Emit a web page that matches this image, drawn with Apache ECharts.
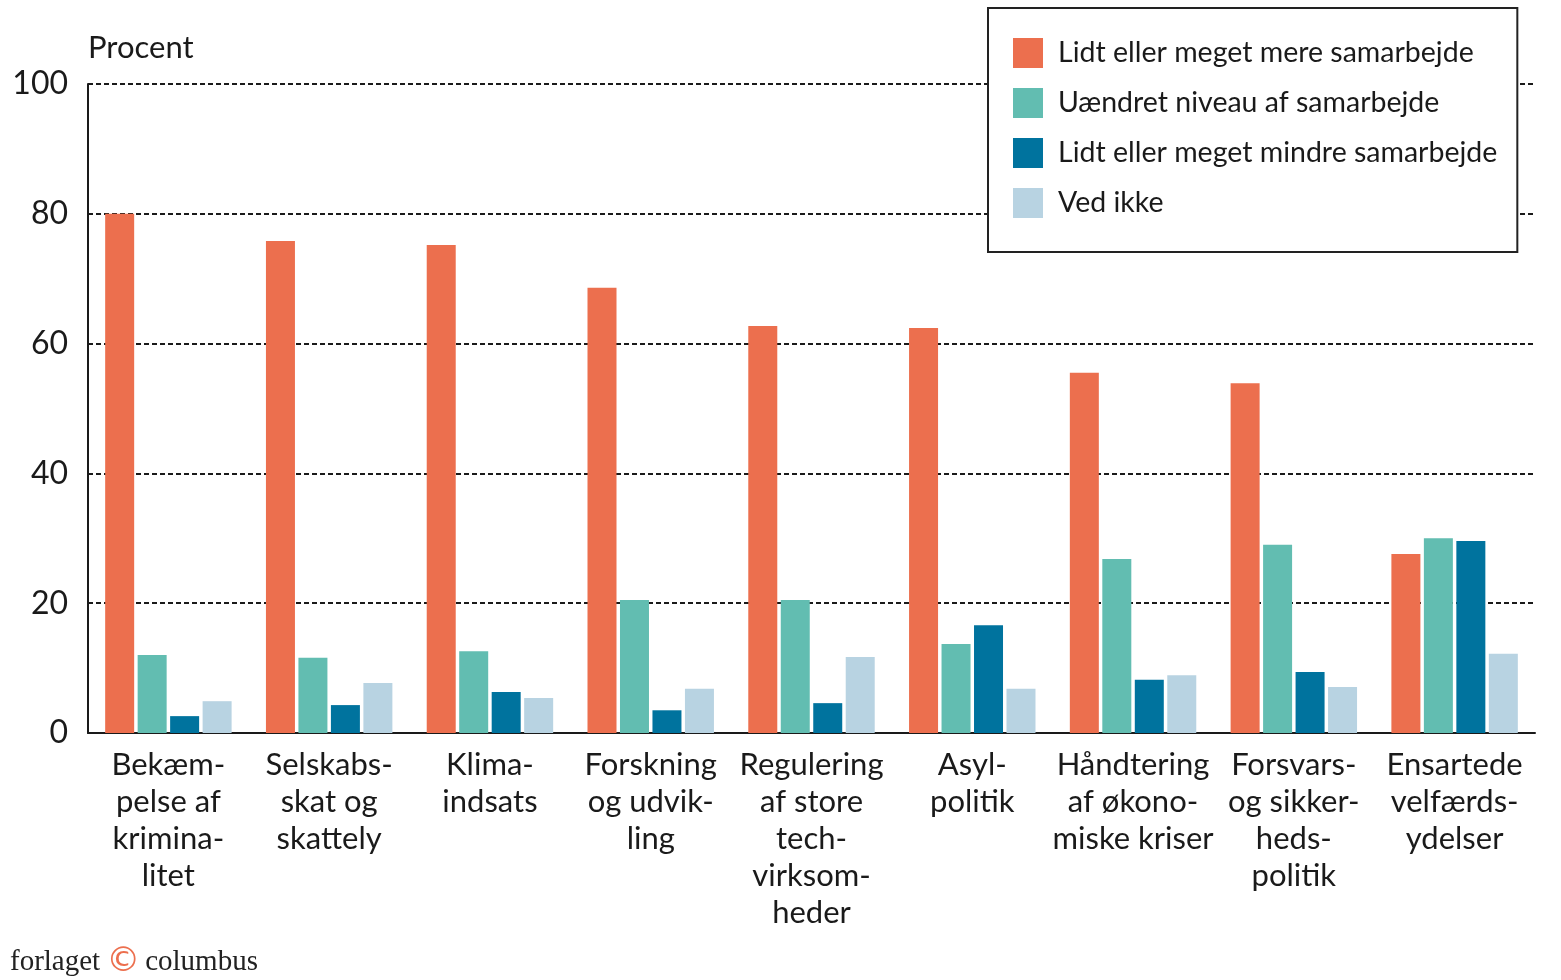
<!DOCTYPE html>
<html>
<head>
<meta charset="utf-8">
<script src="https://cdn.jsdelivr.net/npm/echarts@6/dist/echarts.min.js"></script>
<style>html,body{margin:0;padding:0;background:#fff}#c{width:1561px;height:980px}</style>
</head>
<body>
<div id="c"></div>
<script>
const categories = [
  "Bekæm-\npelse af\nkrimina-\nlitet",
  "Selskabs-\nskat og\nskattely",
  "Klima-\nindsats",
  "Forskning\nog udvik-\nling",
  "Regulering\naf store\ntech-\nvirksom-\nheder",
  "Asyl-\npolitik",
  "Håndtering\naf økono-\nmiske kriser",
  "Forsvars-\nog sikker-\nheds-\npolitik",
  "Ensartede\nvelfærds-\nydelser"
];
const seriesNames = [
  "Lidt eller meget mere samarbejde",
  "Uændret niveau af samarbejde",
  "Lidt eller meget mindre samarbejde",
  "Ved ikke"
];
const mere    = [80.0, 75.8, 75.2, 68.6, 62.7, 62.4, 55.5, 53.9, 27.6];
const uaendret= [12.0, 11.6, 12.6, 20.5, 20.5, 13.7, 26.8, 29.0, 30.0];
const mindre  = [2.6, 4.3, 6.3, 3.5, 4.6, 16.6, 8.2, 9.4, 29.6];
const vedIkke = [4.9, 7.7, 5.4, 6.8, 11.7, 6.8, 8.9, 7.1, 12.2];
const yTicks = [0, 20, 40, 60, 80, 100];

const colors = ["#EC6F4E", "#62BDB1", "#00739E", "#B8D3E2"];
const font = "Lato";
const values = [mere, uaendret, mindre, vedIkke];

const chart = echarts.init(document.getElementById('c'), null, {renderer: 'canvas'});
chart.setOption({
  animation: false,
  color: colors,
  textStyle: {fontFamily: font, color: '#1a1a1a'},
  grid: {left: 88, right: 26, top: 84, bottom: 247, containLabel: false},
  legend: {
    orient: 'vertical',
    left: 988, top: 8,
    padding: [30, 20, 34, 25],
    itemWidth: 30, itemHeight: 30, itemGap: 20,
    icon: 'rect',
    borderColor: '#222', borderWidth: 2,
    backgroundColor: '#fff',
    textStyle: {fontFamily: font, fontSize: 28.5, color: '#1a1a1a', padding: [0, 0, 0, 10]},
    data: seriesNames
  },
  xAxis: {
    type: 'category',
    data: categories,
    axisLine: {lineStyle: {color: '#1a1a1a', width: 2}},
    axisTick: {show: false},
    axisLabel: {fontFamily: font, fontSize: 31, color: '#1a1a1a', lineHeight: 37, margin: 13, interval: 0, align: 'center'}
  },
  yAxis: {
    type: 'value',
    min: 0, max: 100, interval: 20,
    name: 'Procent',
    nameLocation: 'end',
    nameGap: 21,
    nameTextStyle: {fontFamily: font, fontSize: 31, color: '#1a1a1a', align: 'left'},
    axisLine: {show: true, lineStyle: {color: '#1a1a1a', width: 2}},
    axisTick: {show: false},
    axisLabel: {fontFamily: font, fontSize: 32, color: '#1a1a1a', margin: 20,
      formatter: v => yTicks.includes(v) ? String(v) : ''},
    splitLine: {show: true, lineStyle: {color: '#1a1a1a', width: 2, type: [5, 3]}}
  },
  series: values.map((d, i) => ({
    name: seriesNames[i],
    type: 'bar',
    data: d,
    barWidth: 29,
    barGap: '12%',
    z: 3,
    itemStyle: {color: colors[i]}
  })),
  graphic: [{
    type: 'text',
    left: 10, top: 945,
    style: {
      text: '{a|forlaget}{b|©}{a|columbus}',
      rich: {
        a: {fontFamily: 'Liberation Serif', fontSize: 29, fill: '#222'},
        b: {fontFamily: 'DejaVu Sans', fontSize: 34, fill: '#EC6F4E', padding: [0, 5, 0, 6]}
      }
    }
  }]
});
</script>
</body>
</html>
